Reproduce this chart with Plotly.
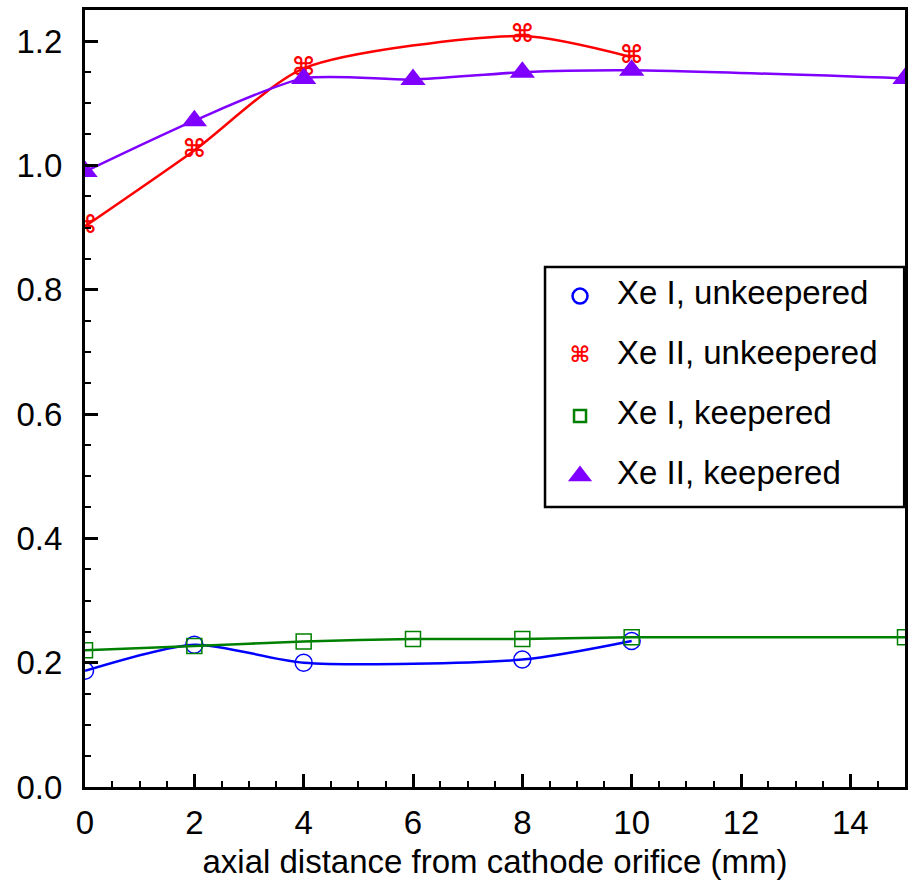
import plotly.graph_objects as go

# ---- data ----
x_unk = [0, 2, 4, 8, 10]
xe1_unkeepered = [0.187, 0.229, 0.200, 0.205, 0.235]
xe2_unkeepered = [0.902, 1.024, 1.156, 1.208, 1.174]

x_keep = [0, 2, 4, 6, 8, 10, 15]
xe1_keepered = [0.220, 0.227, 0.234, 0.238, 0.238, 0.241, 0.241]
xe2_keepered = [0.990, 1.072, 1.140, 1.138, 1.150, 1.153, 1.140]

legend_labels = ["Xe I, unkeepered", "Xe II, unkeepered", "Xe I, keepered", "Xe II, keepered"]

FONT = "Liberation Sans, Arial, Helvetica, sans-serif"
FS = 33
BLUE = "#0000ff"
RED = "#ff0000"
GREEN = "#008000"
PURPLE = "#8000ff"

fig = go.Figure()

fig.add_trace(go.Scatter(
    x=x_unk, y=xe1_unkeepered, mode="lines+markers",
    line=dict(color=BLUE, width=2.5, shape="spline", smoothing=0.7),
    marker=dict(symbol="circle-open", size=17, color=BLUE, line=dict(width=1.5, color=BLUE)),
    showlegend=False))

fig.add_trace(go.Scatter(
    x=x_unk, y=xe2_unkeepered, mode="lines+text", text=["⌘"] * len(x_unk),
    textposition="middle center",
    textfont=dict(family="DejaVu Sans", size=25, color=RED, weight="bold"),
    line=dict(color=RED, width=2.5, shape="spline", smoothing=0.7),
    showlegend=False))

fig.add_trace(go.Scatter(
    x=x_keep, y=xe1_keepered, mode="lines+markers",
    line=dict(color=GREEN, width=2.5, shape="spline", smoothing=0.7),
    marker=dict(symbol="square-open", size=15, color=GREEN, line=dict(width=1.5, color=GREEN)),
    showlegend=False))

fig.add_trace(go.Scatter(
    x=x_keep, y=xe2_keepered, mode="lines+markers",
    line=dict(color=PURPLE, width=2.5, shape="spline", smoothing=0.7),
    marker=dict(symbol="triangle-up", size=22, color=PURPLE, line=dict(width=0)),
    showlegend=False))

# ---- manual legend on an overlay axis (0..1 coordinates) ----
leg_y = [0.6318, 0.5546, 0.4774, 0.4001]
leg_mx = 0.6037
leg_tx = 0.6488
fig.add_trace(go.Scatter(
    x=[leg_mx], y=[leg_y[0]], mode="markers", xaxis="x2", yaxis="y2",
    marker=dict(symbol="circle-open", size=15, color=BLUE, line=dict(width=2.5, color=BLUE)),
    showlegend=False, hoverinfo="skip"))
fig.add_trace(go.Scatter(
    x=[leg_mx], y=[leg_y[1]], mode="text", text=["⌘"], xaxis="x2", yaxis="y2",
    textposition="middle center",
    textfont=dict(family="DejaVu Sans", size=22, color=RED, weight="bold"),
    showlegend=False, hoverinfo="skip"))
fig.add_trace(go.Scatter(
    x=[leg_mx], y=[leg_y[2]], mode="markers", xaxis="x2", yaxis="y2",
    marker=dict(symbol="square-open", size=12, color=GREEN, line=dict(width=2.5, color=GREEN)),
    showlegend=False, hoverinfo="skip"))
fig.add_trace(go.Scatter(
    x=[leg_mx], y=[leg_y[3]], mode="markers", xaxis="x2", yaxis="y2",
    marker=dict(symbol="triangle-up", size=21, color=PURPLE, line=dict(width=0)),
    showlegend=False, hoverinfo="skip"))
fig.add_trace(go.Scatter(
    x=[leg_tx] * 4, y=leg_y, mode="text", text=legend_labels, xaxis="x2", yaxis="y2",
    textposition="middle right",
    textfont=dict(family=FONT, size=FS, color="black"),
    showlegend=False, hoverinfo="skip"))

fig.add_shape(type="rect", xref="paper", yref="paper",
              x0=0.561, x1=0.999, y0=0.3604, y1=0.6692,
              line=dict(color="black", width=2.5), fillcolor="rgba(0,0,0,0)")

axis_common = dict(
    showgrid=False, zeroline=False, showline=True, linecolor="black", linewidth=3,
    mirror=True, ticks="inside", tickcolor="black", tickwidth=2.5, ticklen=13,
    tickfont=dict(family=FONT, size=FS, color="black"), automargin=False,
)

fig.update_layout(
    width=913, height=880,
    margin=dict(l=85, r=8, t=10, b=93),
    plot_bgcolor="white", paper_bgcolor="white",
    font=dict(family=FONT, size=FS, color="black"),
    xaxis=dict(range=[0, 15], dtick=2, tick0=0,
               minor=dict(dtick=0.5, ticks="inside", ticklen=6, tickwidth=2, tickcolor="black"),
               ticklabelstandoff=4,
               title=dict(text="axial distance from cathode orifice (mm)",
                          font=dict(family=FONT, size=FS), standoff=12),
               **axis_common),
    yaxis=dict(range=[0, 1.25], dtick=0.2, tick0=0, tickformat=".1f",
               minor=dict(dtick=0.05, ticks="inside", ticklen=6, tickwidth=2, tickcolor="black"),
               ticklabelstandoff=13,
               **axis_common),
    xaxis2=dict(range=[0, 1], domain=[0, 1], overlaying="x", visible=False, fixedrange=True),
    yaxis2=dict(range=[0, 1], domain=[0, 1], overlaying="y", visible=False, fixedrange=True),
)

fig.write_html("out.html")
